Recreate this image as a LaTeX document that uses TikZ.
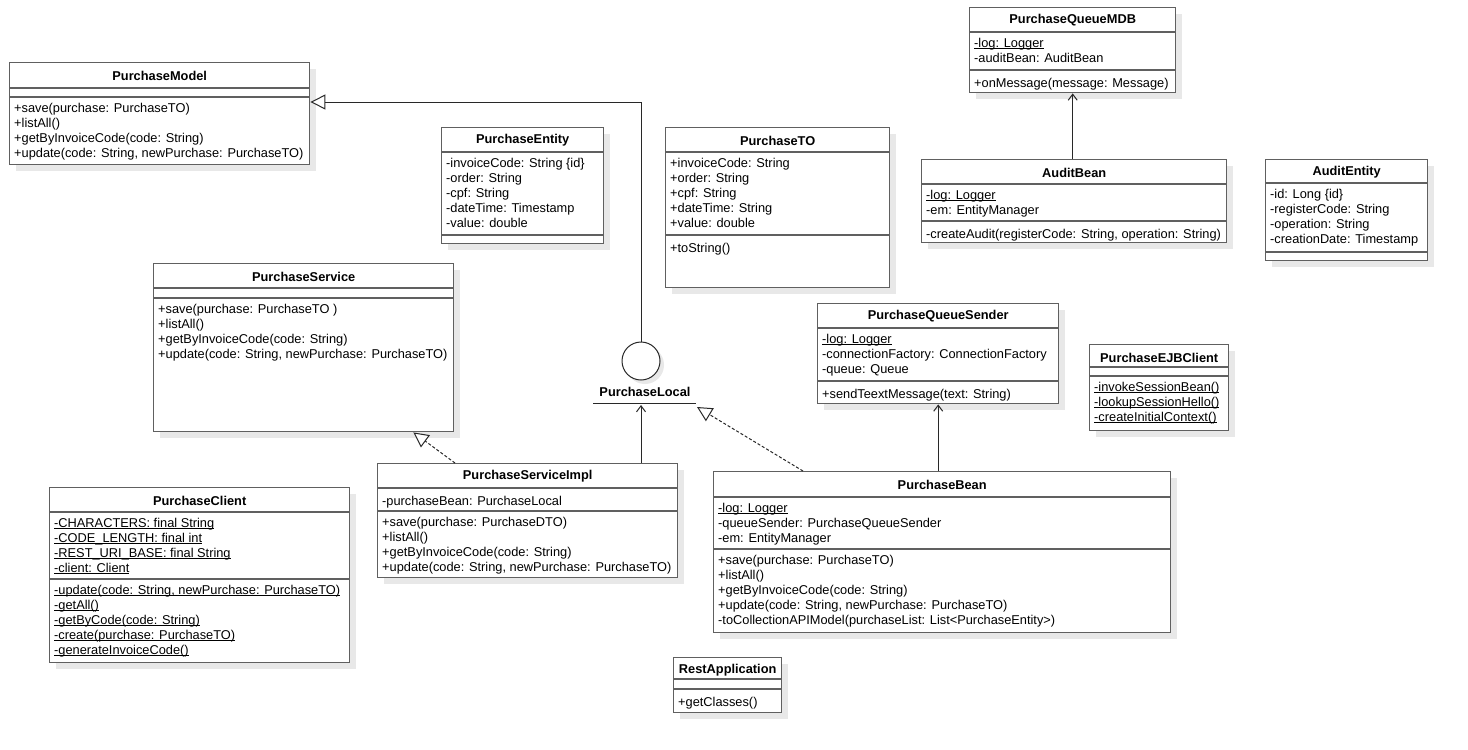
\documentclass[tikz,border=0pt]{standalone}
\usepackage{fontspec}
\setmainfont{Liberation Sans}
\usetikzlibrary{calc,positioning,shadows,arrows.meta}

\definecolor{boxline}{RGB}{96,96,96}
\definecolor{linkline}{RGB}{40,40,40}

\tikzset{
    umlbox/.style={draw=boxline, line width=1.4pt, fill=white, inner sep=0pt, anchor=north west,
        drop shadow={shadow xshift=6pt, shadow yshift=-6pt, fill=black!9, opacity=1}},
    umltitle/.style={font=\fontsize{12.8}{15}\selectfont\bfseries, inner sep=0pt},
    members/.style={anchor=north west, inner sep=0pt, align=left, font=\fontsize{12.8}{15}\selectfont,
        execute at begin node={\rule{0pt}{11.5pt}}},
    partline/.style={draw=boxline, line width=1.4pt},
    usage/.style={draw=linkline, line width=1pt, -{Straight Barb[length=6pt, width=9pt]}},
    generalize/.style={draw=linkline, line width=1pt, -{Triangle[fill=white, length=15pt, width=15pt]}},
    realize/.style={generalize, dash pattern=on 3pt off 2pt}
}

% class box: name, x, y, width, height, title
\newcommand\umlclass[6]{%
    \node[umlbox, minimum width=#4pt, minimum height=#5pt] (#1) at (#2,#3) {};
    \node[umltitle] at ($(#1.north)+(0,13.5)$) {#6};}
% compartment: box, offset from top, lines
\newcommand\umlpart[3]{%
    \draw[partline] ($(#1.north west)+(0,#2)$) -- ($(#1.north east)+(0,#2)$);
    \node[members] at ($(#1.north west)+(5,#2+6)$) {#3};}
% static member, underlined close to the baseline
\newcommand\umlstatic[1]{\setbox0\hbox{#1}\rlap{\rule[-1.6pt]{\wd0}{0.7pt}}\box0}

\begin{document}
\begin{tikzpicture}[x=1pt, y=-1pt]
    \fill[white] (0,0) rectangle (1468,750);
    \useasboundingbox (0,0) rectangle (1468,750);

    % model and entities
    \umlclass{model}{9}{62}{300}{102}{PurchaseModel}
    \umlpart{model}{26}{}
    \umlpart{model}{35}{+save(purchase: PurchaseTO)\\+listAll()\\+getByInvoiceCode(code: String)\\+update(code: String, newPurchase: PurchaseTO)}

    \umlclass{entity}{441}{127}{162}{116}{PurchaseEntity}
    \umlpart{entity}{25}{-invoiceCode: String \{id\}\\-order: String\\-cpf: String\\-dateTime: Timestamp\\-value: double}
    \umlpart{entity}{108}{}

    \umlclass{to}{665}{127}{224}{160}{PurchaseTO}
    \umlpart{to}{25}{+invoiceCode: String\\+order: String\\+cpf: String\\+dateTime: String\\+value: double}
    \umlpart{to}{108}{+toString()}

    \umlclass{service}{153}{263}{300}{168}{PurchaseService}
    \umlpart{service}{25}{}
    \umlpart{service}{35}{+save(purchase: PurchaseTO )\\+listAll()\\+getByInvoiceCode(code: String)\\+update(code: String, newPurchase: PurchaseTO)}

    % audit side
    \umlclass{mdb}{969}{7}{206}{85}{PurchaseQueueMDB}
    \umlpart{mdb}{25}{\umlstatic{-log: Logger}\\-auditBean: AuditBean}
    \umlpart{mdb}{63}{+onMessage(message: Message)}

    \umlclass{audit}{921}{159}{305}{83}{AuditBean}
    \umlpart{audit}{25}{\umlstatic{-log: Logger}\\-em: EntityManager}
    \umlpart{audit}{62}{-createAudit(registerCode: String, operation: String)}

    \umlclass{auditentity}{1265}{159}{162}{101}{AuditEntity}
    \umlpart{auditentity}{24}{-id: Long \{id\}\\-registerCode: String\\-operation: String\\-creationDate: Timestamp}
    \umlpart{auditentity}{93}{}

    \umlclass{sender}{817}{303}{241}{100}{PurchaseQueueSender}
    \umlpart{sender}{25}{\umlstatic{-log: Logger}\\-connectionFactory: ConnectionFactory\\-queue: Queue}
    \umlpart{sender}{78}{+sendTeextMessage(text: String)}

    \umlclass{ejbclient}{1089}{344}{139}{86}{PurchaseEJBClient}
    \umlpart{ejbclient}{23}{}
    \umlpart{ejbclient}{32}{\umlstatic{-invokeSessionBean()}\\\umlstatic{-lookupSessionHello()}\\\umlstatic{-createInitialContext()}}

    % clients and implementations
    \umlclass{client}{49}{487}{300}{175}{PurchaseClient}
    \umlpart{client}{25}{\umlstatic{-CHARACTERS: final String}\\\umlstatic{-CODE\_LENGTH: final int}\\\umlstatic{-REST\_URI\_BASE: final String}\\\umlstatic{-client: Client}}
    \umlpart{client}{92}{\umlstatic{-update(code: String, newPurchase: PurchaseTO)}\\\umlstatic{-getAll()}\\\umlstatic{-getByCode(code: String)}\\\umlstatic{-create(purchase: PurchaseTO)}\\\umlstatic{-generateInvoiceCode()}}

    \umlclass{impl}{377}{463}{300}{114}{PurchaseServiceImpl}
    \umlpart{impl}{25}{-purchaseBean: PurchaseLocal}
    \umlpart{impl}{48}{+save(purchase: PurchaseDTO)\\+listAll()\\+getByInvoiceCode(code: String)\\+update(code: String, newPurchase: PurchaseTO)}

    \umlclass{bean}{713}{471}{457}{161}{PurchaseBean}
    \umlpart{bean}{26}{\umlstatic{-log: Logger}\\-queueSender: PurchaseQueueSender\\-em: EntityManager}
    \umlpart{bean}{78}{+save(purchase: PurchaseTO)\\+listAll()\\+getByInvoiceCode(code: String)\\+update(code: String, newPurchase: PurchaseTO)\\-toCollectionAPIModel(purchaseList: List<PurchaseEntity>)}

    \umlclass{rest}{673}{657}{108}{55}{RestApplication}
    \umlpart{rest}{22}{}
    \umlpart{rest}{32}{+getClasses()}

    % interface lollipop
    \node[circle, draw=linkline, line width=1pt, fill=white, minimum size=38pt, inner sep=0pt,
        drop shadow={shadow xshift=4pt, shadow yshift=-4pt, fill=black!9, opacity=1}] (local) at (641,361) {};
    \node[umltitle] (locallbl) at (645,392) {PurchaseLocal};
    \draw[partline, draw=linkline, line width=1pt] (593,403) coordinate (barL) -- (696,403) coordinate (barR);

    % links
    \draw[generalize] (local.north) |- ([yshift=-40pt]model.north east);
    \draw[usage] (impl.north -| local) -- ([yshift=-2pt]local |- barL);
    \draw[realize] ([xshift=90pt]bean.north west) -- ([shift={(1,4)}]barR);
    \draw[realize] ([xshift=78pt]impl.north west) -- ([xshift=-41pt]service.south east);
    \draw[usage] (sender.south |- bean.north) -- (sender.south);
    \draw[usage] (mdb.south |- audit.north) -- (mdb.south);
\end{tikzpicture}
\end{document}
